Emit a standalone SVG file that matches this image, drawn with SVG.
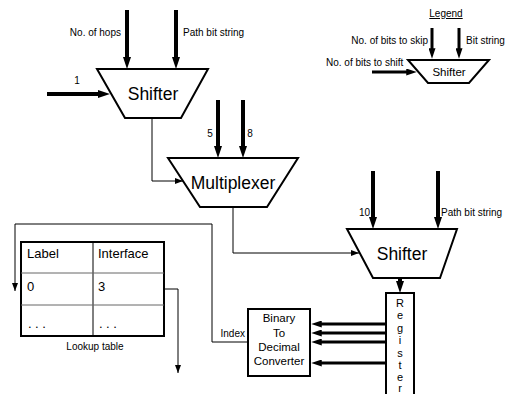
<svg xmlns="http://www.w3.org/2000/svg" width="507" height="394" viewBox="0 0 507 394">
<style>
text{font-family:"Liberation Sans",Arial,sans-serif;fill:#000}
.lbl{font-size:10px}
.big{font-size:17.5px;text-anchor:middle}
.shape{fill:#fff;stroke:#000;stroke-width:2}
.thick{stroke:#000;stroke-width:4;fill:none}
.mid{stroke:#000;stroke-width:3;fill:none}
.thin{stroke:#000;stroke-width:1;fill:none}
.tbl{font-size:13px}
.dots{font-size:13px;letter-spacing:3.5px}
.conv{font-size:11.5px;text-anchor:middle}
.reg{font-size:11px;text-anchor:middle}
</style>
<defs>
<marker id="ah" viewBox="0 0 12 8" refX="2" refY="4" markerWidth="12" markerHeight="8" markerUnits="userSpaceOnUse" orient="auto">
<path d="M0,0 L12,4 L0,8 z" fill="#000"/>
</marker>
<marker id="ah2" viewBox="0 0 12 8" refX="2" refY="4" markerWidth="12" markerHeight="7" markerUnits="userSpaceOnUse" orient="auto">
<path d="M0,0 L12,4 L0,8 z" fill="#000"/>
</marker>
<marker id="at" viewBox="0 0 8 6" refX="8" refY="3" markerWidth="8" markerHeight="6" markerUnits="userSpaceOnUse" orient="auto">
<path d="M0,0 L8,3 L0,6 z" fill="#000"/>
</marker>
</defs>

<g id="shifter1">
<polygon class="shape" points="97,69 208,69 181,118 125,118"/>
<text class="big" x="153" y="100">Shifter</text>
</g>

<g id="multiplexer">
<polygon class="shape" points="168,158 298,158 267,207 200,207"/>
<text class="big" x="233" y="189">Multiplexer</text>
</g>

<g id="shifter2">
<polygon class="shape" points="347,229 457,229 440,278 373,278"/>
<text class="big" x="402" y="260">Shifter</text>
</g>

<g id="register">
<rect class="shape" x="386" y="293" width="28" height="104"/>
<text class="reg" x="400" y="307">R</text>
<text class="reg" x="400" y="319">e</text>
<text class="reg" x="400" y="332">g</text>
<text class="reg" x="400" y="344">i</text>
<text class="reg" x="400" y="357">s</text>
<text class="reg" x="400" y="369">t</text>
<text class="reg" x="400" y="381">e</text>
<text class="reg" x="400" y="392">r</text>
</g>

<g id="converter">
<rect class="shape" x="248" y="309" width="62" height="67"/>
<text class="conv" x="279" y="322">Binary</text>
<text class="conv" x="279" y="337">To</text>
<text class="conv" x="279" y="351">Decimal</text>
<text class="conv" x="279" y="365">Converter</text>
</g>

<g id="lookup-table">
<rect x="21" y="242" width="143" height="94" fill="#fff" stroke="#000" stroke-width="2"/>
<line x1="93" y1="242" x2="93" y2="336" stroke="#000" stroke-width="1"/>
<line x1="21" y1="273" x2="164" y2="273" stroke="#666" stroke-width="1"/>
<line x1="21" y1="305" x2="164" y2="305" stroke="#666" stroke-width="1"/>
<text class="tbl" x="27" y="258">Label</text>
<text class="tbl" x="98" y="258">Interface</text>
<text class="tbl" x="27" y="291">0</text>
<text class="tbl" x="98" y="291">3</text>
<text class="dots" x="28" y="328">...</text>
<text class="dots" x="99" y="328">...</text>
<text class="lbl" x="95" y="350" text-anchor="middle">Lookup table</text>
</g>

<g id="legend">
<text class="lbl" x="446" y="17" text-anchor="middle" text-decoration="underline">Legend</text>
<polygon class="shape" points="408,60 489,60 469,83 428,83"/>
<text x="449" y="76" font-size="11.5" text-anchor="middle">Shifter</text>
<text class="lbl" x="428" y="44" text-anchor="end">No. of bits to skip</text>
<text class="lbl" x="466" y="44">Bit string</text>
<text class="lbl" x="326" y="66">No. of bits to shift</text>
<line class="mid" x1="432" y1="28" x2="432" y2="50" marker-end="url(#ah2)"/>
<line class="mid" x1="459" y1="28" x2="459" y2="50" marker-end="url(#ah2)"/>
<line class="mid" x1="372" y1="72" x2="408" y2="72" marker-end="url(#ah2)"/>
</g>

<g id="labels">
<text class="lbl" x="121" y="36" text-anchor="end">No. of hops</text>
<text class="lbl" x="183" y="36">Path bit string</text>
<text class="lbl" x="77" y="84" text-anchor="middle">1</text>
<text class="lbl" x="210" y="137" text-anchor="middle">5</text>
<text class="lbl" x="250" y="137" text-anchor="middle">8</text>
<text class="lbl" x="370" y="216" text-anchor="end">10</text>
<text class="lbl" x="441" y="216">Path bit string</text>
<text class="lbl" x="245" y="337" text-anchor="end">Index</text>
</g>

<g id="connectors">
<line class="thick" x1="127" y1="10" x2="127" y2="59" marker-end="url(#ah)"/>
<line class="thick" x1="176" y1="10" x2="176" y2="59" marker-end="url(#ah)"/>
<line class="thick" x1="47" y1="94" x2="100" y2="94" marker-end="url(#ah)"/>
<line class="thick" x1="218" y1="100" x2="218" y2="148" marker-end="url(#ah)"/>
<line class="thick" x1="243" y1="100" x2="243" y2="148" marker-end="url(#ah)"/>
<line class="thick" x1="373" y1="171" x2="373" y2="219" marker-end="url(#ah)"/>
<line class="thick" x1="438" y1="171" x2="438" y2="219" marker-end="url(#ah)"/>
<line class="thick" x1="400" y1="278" x2="400" y2="283" marker-end="url(#ah)"/>
<line class="mid" x1="386" y1="324" x2="320" y2="324" marker-end="url(#ah2)"/>
<line class="mid" x1="386" y1="333" x2="320" y2="333" marker-end="url(#ah2)"/>
<line class="mid" x1="386" y1="342" x2="320" y2="342" marker-end="url(#ah2)"/>
<line class="mid" x1="386" y1="363" x2="320" y2="363" marker-end="url(#ah2)"/>
<path class="thin" d="M152,118 V181 H183" marker-end="url(#at)"/>
<path class="thin" d="M233,207 V253 H359" marker-end="url(#at)"/>
<path class="thin" d="M248,342 H212 V224 H15 V291" marker-end="url(#at)" stroke="#333"/>
<path class="thin" d="M164,289 H178 V373" marker-end="url(#at)"/>
</g>
</svg>
